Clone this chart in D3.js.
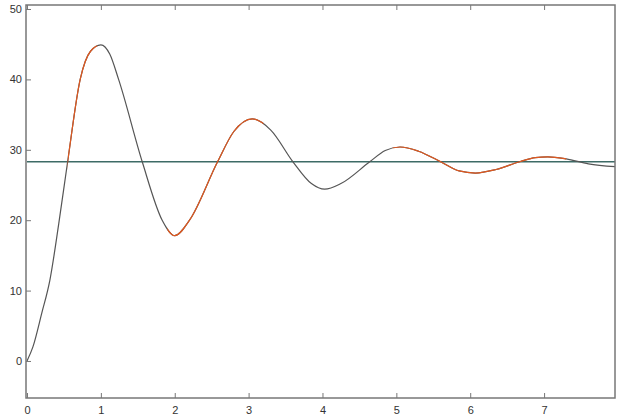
<!DOCTYPE html>
<html>
<head>
<meta charset="utf-8">
<script src="https://cdn.jsdelivr.net/npm/d3@7"></script>
<style>
  body { margin: 0; background: #fff; }
  #chart { width: 617px; height: 418px; }
  .tick text { font-family: "Liberation Sans", Arial, sans-serif; font-size: 11px; fill: #333; }
</style>
</head>
<body>
<div id="chart"></div>
<script>
// response (time, value)
const time     = [0, 0.08, 0.2, 0.31, 0.43, 0.55, 0.72, 0.86, 1.0, 1.12, 1.24, 1.56, 1.83, 2.0, 2.2, 2.58, 2.8, 3.05, 3.3, 3.6, 3.85, 4.03, 4.25, 4.64, 4.85, 5.05, 5.3, 5.6, 5.85, 6.07, 6.35, 6.67, 6.88, 7.05, 7.3, 7.6, 7.96];
const response = [0, 2, 6.8, 11.5, 19.5, 28.3, 40, 44, 44.9, 43.6, 40, 28.3, 20, 17.8, 20, 28.3, 32.6, 34.4, 32.8, 28.3, 25.2, 24.4, 25.2, 28.3, 29.9, 30.4, 29.8, 28.3, 27.0, 26.7, 27.2, 28.3, 28.9, 29.0, 28.7, 28.0, 27.6];
const setpoint = 28.3;
// stretches where the orange trace shows on top
const redSpans = [[0.55, 0.95], [1.9, 3.2], [4.95, 7.3]];
const xTicks = [0, 1, 2, 3, 4, 5, 6, 7];
const yTicks = [0, 10, 20, 30, 40, 50];

const width = 617, height = 418;
const margin = {left: 26, right: 615, top: 5, bottom: 398};

const svg = d3.select("#chart").append("svg")
    .attr("width", width)
    .attr("height", height);

const x = d3.scaleLinear().domain([0, 7.96]).range([margin.left + 1, margin.right]);
const y = d3.scaleLinear().domain([-5.26, 50.57]).range([margin.bottom, margin.top]);

const data = time.map((t, i) => ({t: t, v: response[i]}));

// clip for red spans
const defs = svg.append("defs");
const clip = defs.append("clipPath").attr("id", "redclip");
redSpans.forEach(s => {
    clip.append("rect")
        .attr("x", x(s[0]))
        .attr("y", margin.top)
        .attr("width", x(s[1]) - x(s[0]))
        .attr("height", margin.bottom - margin.top);
});

// set point line
svg.append("line")
    .attr("x1", x(0)).attr("x2", margin.right)
    .attr("y1", y(setpoint)).attr("y2", y(setpoint))
    .attr("stroke", "#3d6b66")
    .attr("stroke-width", 1.6);

const line = d3.line()
    .x(d => x(d.t))
    .y(d => y(d.v))
    .curve(d3.curveMonotoneX);

svg.append("path")
    .datum(data)
    .attr("d", line)
    .attr("fill", "none")
    .attr("stroke", "#555")
    .attr("stroke-width", 1.2);

svg.append("path")
    .datum(data)
    .attr("d", line)
    .attr("fill", "none")
    .attr("stroke", "#e0581f")
    .attr("stroke-width", 1.2)
    .attr("clip-path", "url(#redclip)");

// frame
svg.append("rect")
    .attr("x", margin.left).attr("y", margin.top)
    .attr("width", margin.right - margin.left).attr("height", margin.bottom - margin.top)
    .attr("fill", "none")
    .attr("stroke", "#777")
    .attr("stroke-width", 1.5);

// axes, ticks pointing inward
const xAxis = svg.append("g")
    .attr("transform", `translate(0,${margin.bottom})`)
    .call(d3.axisBottom(x).tickValues(xTicks).tickSize(-5).tickPadding(8).tickFormat(d3.format("d")));
xAxis.select(".domain").remove();

const xTop = svg.append("g")
    .attr("transform", `translate(0,${margin.top})`)
    .call(d3.axisTop(x).tickValues(xTicks).tickSize(-5).tickFormat(""));
xTop.select(".domain").remove();

const yAxis = svg.append("g")
    .attr("transform", `translate(${margin.left},0)`)
    .call(d3.axisLeft(y).tickValues(yTicks).tickSize(-5).tickPadding(4).tickFormat(d3.format("d")));
yAxis.select(".domain").remove();

svg.selectAll(".tick line").attr("stroke", "#777");
</script>
</body>
</html>
